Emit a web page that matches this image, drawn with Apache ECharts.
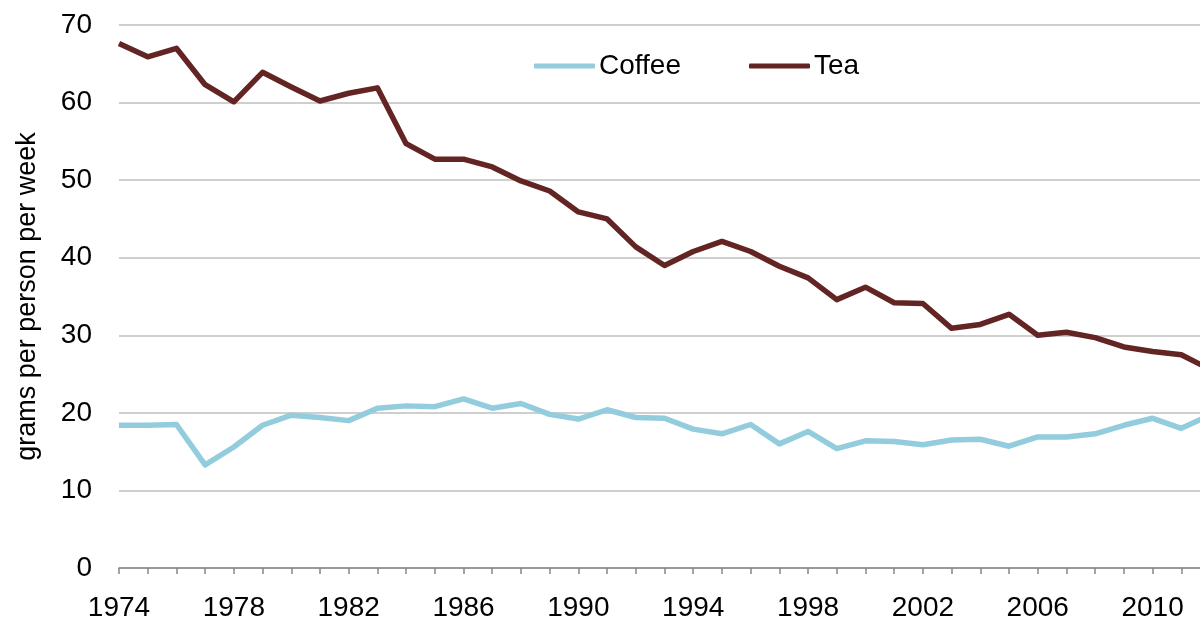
<!DOCTYPE html>
<html>
<head>
<meta charset="utf-8">
<style>
  html, body { margin: 0; padding: 0; background: #ffffff; }
  #chart { width: 1200px; height: 619px; }
</style>
<script src="https://cdn.jsdelivr.net/npm/echarts@6/dist/echarts.min.js"></script>
</head>
<body>
<div id="chart"></div>
<script>
// Weekly household purchases, grams per person
const years = [];
for (let y = 1974; y <= 2012; y++) years.push(String(y));

const coffee = [18.4, 18.4, 18.5, 13.3, 15.6, 18.4, 19.7, 19.4, 19.0, 20.6,
                20.9, 20.8, 21.8, 20.6, 21.2, 19.8, 19.2, 20.4, 19.4, 19.3,
                17.9, 17.3, 18.5, 16.0, 17.6, 15.4, 16.4, 16.3, 15.9, 16.5,
                16.6, 15.7, 16.9, 16.9, 17.3, 18.4, 19.3, 18.0, 19.7];

const tea = [67.6, 65.9, 67.0, 62.3, 60.1, 63.9, 62.0, 60.2, 61.2, 61.9,
             54.7, 52.7, 52.7, 51.7, 49.9, 48.6, 45.9, 45.0, 41.4, 39.0,
             40.8, 42.1, 40.8, 38.9, 37.4, 34.6, 36.2, 34.2, 34.1, 30.9,
             31.4, 32.7, 30.0, 30.4, 29.7, 28.5, 27.9, 27.5, 25.6];

const yTicks = { min: 0, max: 70, step: 10 };

const FONT = "'Liberation Sans', Arial, sans-serif";
const COFFEE_COLOR = '#93CDDD';
const TEA_COLOR = '#632523';

const chart = echarts.init(document.getElementById('chart'), null, { renderer: 'canvas' });

chart.setOption({
  animation: false,
  backgroundColor: '#ffffff',
  textStyle: { fontFamily: FONT },
  grid: { left: 119, right: -10, top: 25, bottom: 51, containLabel: false, outerBoundsMode: 'none' },
  legend: {
    left: 529,
    top: 47,
    itemWidth: 61,
    itemHeight: 5,
    itemGap: 68,
    icon: 'roundRect',
    textStyle: { fontFamily: FONT, fontSize: 28, color: '#000000', padding: [0, 0, 0, -1] },
    data: ['Coffee', 'Tea']
  },
  xAxis: {
    type: 'category',
    data: years,
    boundaryGap: false,
    axisLine: { lineStyle: { color: '#868686', width: 1.5 } },
    axisTick: { show: true, interval: 0, inside: false, length: 6, lineStyle: { color: '#868686', width: 1.5 } },
    axisLabel: { interval: 3, margin: 26, fontSize: 28, color: '#000000', fontFamily: FONT },
    splitLine: { show: false }
  },
  yAxis: {
    type: 'value',
    min: yTicks.min,
    max: yTicks.max,
    interval: yTicks.step,
    name: 'grams per person per week',
    nameLocation: 'middle',
    nameRotate: 90,
    nameGap: 78,
    nameTextStyle: { fontFamily: FONT, fontSize: 27, color: '#000000' },
    axisLine: { show: false },
    axisTick: { show: false },
    axisLabel: { margin: 27, fontSize: 28, color: '#000000', fontFamily: FONT },
    splitLine: { show: true, lineStyle: { color: '#BFBFBF', width: 1.5 } }
  },
  series: [
    {
      name: 'Coffee',
      type: 'line',
      data: coffee,
      symbol: 'none',
      color: COFFEE_COLOR,
      lineStyle: { color: COFFEE_COLOR, width: 5.5, join: 'round' },
      z: 3
    },
    {
      name: 'Tea',
      type: 'line',
      data: tea,
      symbol: 'none',
      color: TEA_COLOR,
      lineStyle: { color: TEA_COLOR, width: 5.5, join: 'round' },
      z: 4
    }
  ]
});
</script>
</body>
</html>
